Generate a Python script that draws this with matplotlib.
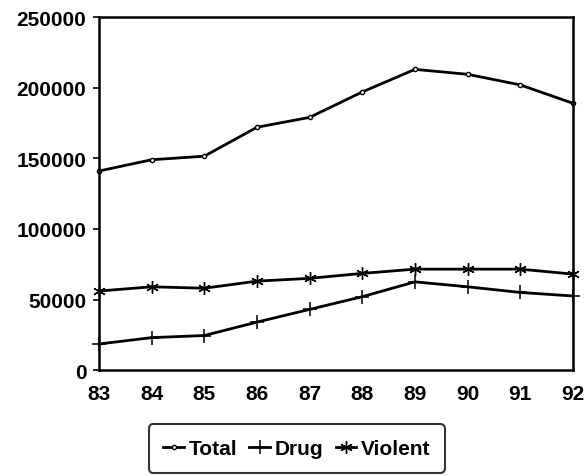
import matplotlib.pyplot as plt

# Werte
jahre = [83, 84, 85, 86, 87, 88, 89, 90, 91, 92]
total = [141000, 149000, 151500, 172000, 179000, 197000, 213000, 209500, 202000, 189000]
drug = [18500, 23000, 24500, 34000, 43000, 52000, 62500, 59000, 55000, 52500]
violent = [56000, 59000, 58000, 63000, 65000, 68500, 71500, 71500, 71500, 68000]
y_ticks = [0, 50000, 100000, 150000, 200000, 250000]

plt.rcParams['font.family'] = ['Liberation Sans', 'DejaVu Sans']
plt.rcParams['font.weight'] = 'bold'

fig = plt.figure(figsize=(5.84, 4.77), dpi=100)
ax = fig.add_axes([0.1695, 0.222, 0.8115, 0.740])

ax.plot(jahre, total, color='black', lw=2, marker='o', ms=3, mfc='white', mew=1,
        label='Total', clip_on=False)
ax.plot(jahre, drug, color='black', lw=2, marker='+', ms=10, mew=1.1,
        label='Drug', clip_on=False)
ax.plot(jahre, violent, color='black', lw=2, marker=(6, 2, 0), ms=9, mew=1.0,
        label='Violent', clip_on=False)

ax.set_xlim(83, 92)
ax.set_ylim(0, 250000)
ax.set_xticks(jahre)
ax.set_yticks(y_ticks)
ax.tick_params(axis='x', length=0, pad=10, labelsize=15)
ax.tick_params(axis='y', length=4, width=1.2, direction='out', labelsize=15, pad=5)
for lbl in ax.get_xticklabels() + ax.get_yticklabels():
    lbl.set_fontweight('bold')
for s in ax.spines.values():
    s.set_linewidth(1.8)

leg = fig.legend(loc='upper center', bbox_to_anchor=(0.508, 0.108), ncol=3, frameon=True,
                 fontsize=15, handlelength=1.0, handletextpad=0.2, columnspacing=0.6,
                 borderpad=0.7, borderaxespad=0.0, fancybox=True, edgecolor='black')
leg.get_frame().set_linewidth(1.5)
for t in leg.get_texts():
    t.set_fontweight('bold')

fig.savefig('out.png', dpi=100)
